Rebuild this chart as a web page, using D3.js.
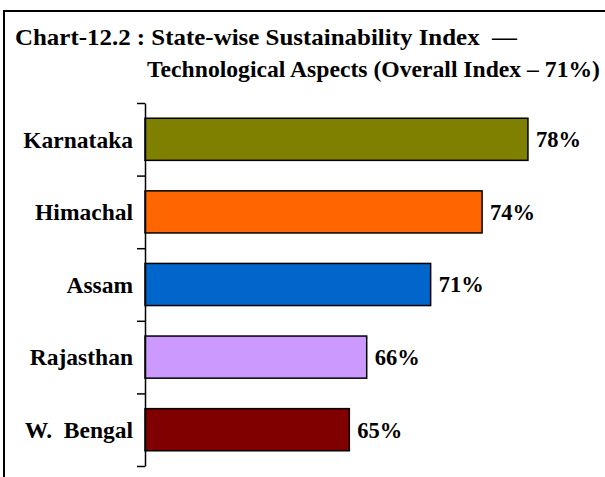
<!DOCTYPE html>
<html><head><meta charset="utf-8">
<script src="https://cdn.jsdelivr.net/npm/d3@7"></script>
<style>
html,body{margin:0;padding:0;background:#fff;}
svg{display:block;}
text{font-family:"Liberation Serif","Times New Roman",serif;font-weight:bold;fill:#000;}
</style></head>
<body>
<svg id="c" width="605" height="477"></svg>
<script>
const categories = ["Karnataka","Himachal","Assam","Rajasthan","W. Bengal"];
const values = [77.55, 74.25, 70.55, 65.95, 64.7];
const colors = ["#808000","#FF6600","#0066CC","#CC99FF","#800000"];
const titleLines = ["Chart-12.2 : State-wise Sustainability Index  \u2014","Technological Aspects (Overall Index \u2013 71%)"];

const svg = d3.select("#c");
// frame
svg.append("path").attr("d","M4,477 V11 H605").attr("fill","none").attr("stroke","#000").attr("stroke-width",2);

svg.append("text").attr("x",15).attr("y",45).attr("font-size",23.5)
  .attr("textLength",502).attr("lengthAdjust","spacingAndGlyphs").style("white-space","pre").text(titleLines[0]);
svg.append("text").attr("x",147).attr("y",77).attr("font-size",23.5)
  .attr("textLength",453).attr("lengthAdjust","spacingAndGlyphs").text(titleLines[1]);

const x0 = 145, yTop = 103, yBot = 466;
const x = d3.scaleLinear().domain([50,80]).range([x0, x0 + 13.9*30]);
const y = d3.scaleBand().domain(categories).range([yTop,yBot]).paddingInner(0.42).paddingOuter(0.21);

const g = svg.append("g");
g.selectAll("rect").data(categories).join("rect")
  .attr("x", x(50)).attr("y", d=>y(d))
  .attr("width", (d,i)=>x(values[i])-x(50))
  .attr("height", y.bandwidth())
  .attr("fill",(d,i)=>colors[i]).attr("stroke","#000").attr("stroke-width",1.5);

g.selectAll("text.val").data(categories).join("text").attr("class","val")
  .attr("x",(d,i)=>x(values[i])+8).attr("y",d=>y(d)+y.bandwidth()/2)
  .attr("dy","0.35em").attr("font-size",22.5)
  .text((d,i)=>d3.format(".0f")(values[i])+"%");

g.selectAll("text.cat").data(categories).join("text").attr("class","cat")
  .attr("x",133).attr("y",d=>y(d)+y.bandwidth()/2)
  .attr("dy","0.35em").attr("font-size",23.5).attr("text-anchor","end")
  .style("white-space","pre")
  .text(d=>d.replace(". ",".  "));

const tk = d3.scaleLinear().domain([0,categories.length]).range([yTop,yBot]);
const ax = svg.append("g").attr("transform",`translate(${x0},0)`)
  .call(d3.axisLeft(tk).tickValues(d3.range(categories.length+1)).tickFormat("").tickSize(8).tickSizeOuter(0));
ax.select(".domain").attr("stroke","#000").attr("stroke-width",1.5);
ax.selectAll(".tick line").attr("stroke","#000").attr("stroke-width",1.5);
</script>
</body></html>
